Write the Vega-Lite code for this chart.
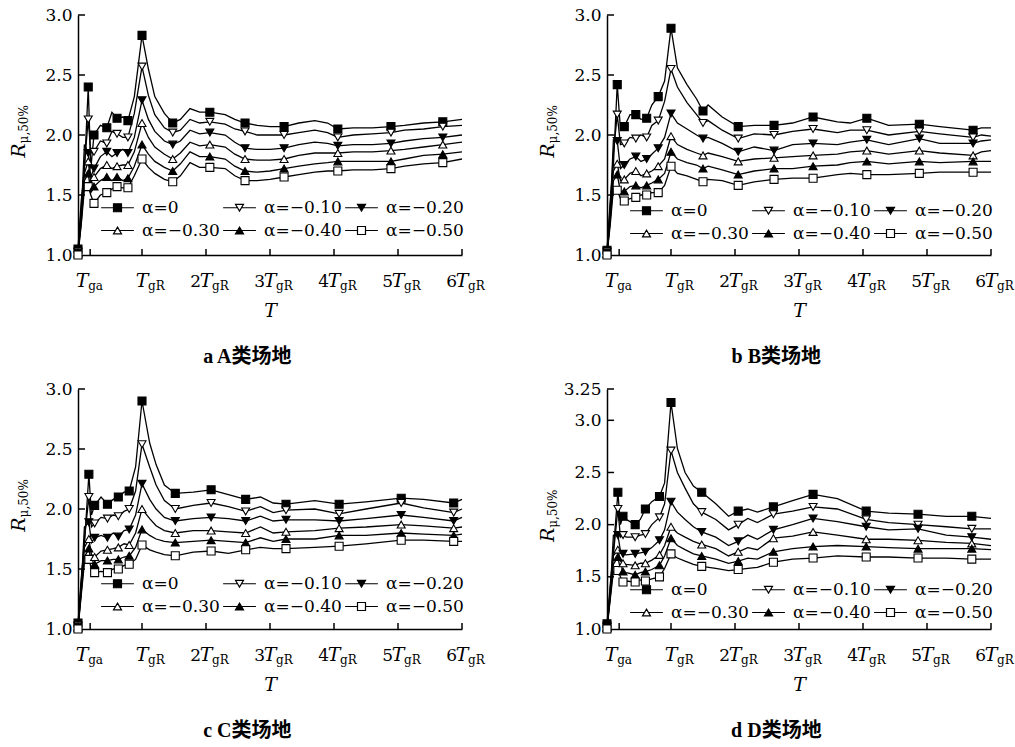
{
"$schema":"https://vega.github.io/schema/vega-lite/v6.json",
"padding":{"left":10,"top":6,"right":5,"bottom":5},
"background":"white",
"config":{"view":{"stroke":null},"font":"DejaVu Serif"},
"datasets":{
"X":[{"t":0.19,"n":"","s":"ga"},{"t":1,"n":"","s":"gR"},{"t":2,"n":"2","s":"gR"},{"t":3,"n":"3","s":"gR"},{"t":4,"n":"4","s":"gR"},{"t":5,"n":"5","s":"gR"},{"t":6,"n":"6","s":"gR"}],
"Y":[{"v":1.5},{"v":2},{"v":2.5},{"v":3},{"v":3.3}],
"L":[
{"p":"a","t":0,"m":1,"a":1.05,"b":1.03,"c":1.02,"d":1.02,"e":1.01,"f":1.0},
{"p":"a","t":0.05,"a":1.45,"b":1.38,"c":1.32,"d":1.3,"e":1.27,"f":1.25},
{"p":"a","t":0.1,"a":1.7,"b":1.75,"c":1.92,"d":1.68,"e":1.62,"f":1.55},
{"p":"a","t":0.16,"m":1,"a":2.4,"b":2.13,"c":1.85,"d":1.78,"e":1.68,"f":1.57},
{"p":"a","t":0.2,"a":1.72,"b":1.85,"c":1.65,"d":1.6,"e":1.52,"f":1.5},
{"p":"a","t":0.25,"m":1,"a":2.0,"b":1.86,"c":1.72,"d":1.65,"e":1.57,"f":1.43},
{"p":"a","t":0.35,"a":2.08,"b":1.95,"c":1.82,"d":1.72,"e":1.62,"f":1.5},
{"p":"a","t":0.45,"m":1,"a":2.06,"b":1.93,"c":1.86,"d":1.75,"e":1.65,"f":1.52},
{"p":"a","t":0.53,"a":2.19,"b":2.03,"c":1.82,"d":1.72,"e":1.62,"f":1.55},
{"p":"a","t":0.61,"m":1,"a":2.14,"b":2.01,"c":1.85,"d":1.74,"e":1.65,"f":1.57},
{"p":"a","t":0.7,"a":2.15,"b":1.98,"c":1.88,"d":1.75,"e":1.62,"f":1.56},
{"p":"a","t":0.78,"m":1,"a":2.12,"b":1.98,"c":1.85,"d":1.75,"e":1.64,"f":1.56},
{"p":"a","t":0.88,"a":2.32,"b":2.18,"c":1.98,"d":1.86,"e":1.74,"f":1.66},
{"p":"a","t":1.0,"m":1,"a":2.83,"b":2.57,"c":2.29,"d":2.1,"e":1.92,"f":1.8},
{"p":"a","t":1.1,"a":2.55,"b":2.33,"c":2.13,"d":1.98,"e":1.84,"f":1.73},
{"p":"a","t":1.2,"a":2.32,"b":2.17,"c":2.03,"d":1.9,"e":1.78,"f":1.68},
{"p":"a","t":1.35,"a":2.18,"b":2.06,"c":1.95,"d":1.84,"e":1.73,"f":1.63},
{"p":"a","t":1.48,"m":1,"a":2.1,"b":2.02,"c":1.92,"d":1.8,"e":1.7,"f":1.61},
{"p":"a","t":1.6,"a":2.13,"b":2.04,"c":1.95,"d":1.85,"e":1.76,"f":1.66},
{"p":"a","t":1.75,"a":2.22,"b":2.13,"c":2.04,"d":1.94,"e":1.86,"f":1.77},
{"p":"a","t":1.9,"a":2.19,"b":2.1,"c":2.01,"d":1.91,"e":1.82,"f":1.73},
{"p":"a","t":2.06,"m":1,"a":2.19,"b":2.11,"c":2.02,"d":1.92,"e":1.82,"f":1.73},
{"p":"a","t":2.3,"a":2.17,"b":2.09,"c":2.0,"d":1.9,"e":1.8,"f":1.72},
{"p":"a","t":2.45,"a":2.13,"b":2.05,"c":1.94,"d":1.84,"e":1.74,"f":1.66},
{"p":"a","t":2.61,"m":1,"a":2.1,"b":2.03,"c":1.89,"d":1.8,"e":1.7,"f":1.62},
{"p":"a","t":2.8,"a":2.08,"b":2.0,"c":1.88,"d":1.79,"e":1.69,"f":1.62},
{"p":"a","t":3.0,"a":2.07,"b":2.0,"c":1.88,"d":1.79,"e":1.7,"f":1.63},
{"p":"a","t":3.22,"m":1,"a":2.07,"b":2.0,"c":1.89,"d":1.8,"e":1.72,"f":1.65},
{"p":"a","t":3.45,"a":2.1,"b":2.02,"c":1.92,"d":1.83,"e":1.74,"f":1.67},
{"p":"a","t":3.7,"a":2.12,"b":2.04,"c":1.94,"d":1.85,"e":1.76,"f":1.69},
{"p":"a","t":3.9,"a":2.1,"b":2.02,"c":1.93,"d":1.85,"e":1.77,"f":1.7},
{"p":"a","t":4.06,"m":1,"a":2.05,"b":1.98,"c":1.91,"d":1.85,"e":1.78,"f":1.7},
{"p":"a","t":4.3,"a":2.06,"b":2.0,"c":1.92,"d":1.86,"e":1.78,"f":1.71},
{"p":"a","t":4.6,"a":2.06,"b":2.01,"c":1.92,"d":1.86,"e":1.78,"f":1.71},
{"p":"a","t":4.89,"m":1,"a":2.07,"b":2.02,"c":1.93,"d":1.87,"e":1.78,"f":1.72},
{"p":"a","t":5.1,"a":2.08,"b":2.04,"c":1.95,"d":1.88,"e":1.8,"f":1.74},
{"p":"a","t":5.4,"a":2.1,"b":2.05,"c":1.97,"d":1.9,"e":1.83,"f":1.76},
{"p":"a","t":5.7,"m":1,"a":2.11,"b":2.07,"c":1.98,"d":1.92,"e":1.84,"f":1.77},
{"p":"a","t":6.0,"a":2.13,"b":2.08,"c":2.0,"d":1.94,"e":1.86,"f":1.8},
{"p":"b","t":0,"m":1,"a":1.04,"b":1.03,"c":1.02,"d":1.01,"e":1.01,"f":1.0},
{"p":"b","t":0.05,"a":1.45,"b":1.4,"c":1.35,"d":1.3,"e":1.28,"f":1.25},
{"p":"b","t":0.1,"a":1.75,"b":1.85,"c":1.96,"d":1.7,"e":1.62,"f":1.55},
{"p":"b","t":0.16,"m":1,"a":2.42,"b":2.17,"c":1.95,"d":1.76,"e":1.67,"f":1.54},
{"p":"b","t":0.21,"a":2.05,"b":1.92,"c":1.72,"d":1.62,"e":1.53,"f":1.47},
{"p":"b","t":0.27,"m":1,"a":2.07,"b":1.93,"c":1.75,"d":1.63,"e":1.53,"f":1.45},
{"p":"b","t":0.36,"a":2.17,"b":1.98,"c":1.8,"d":1.68,"e":1.57,"f":1.47},
{"p":"b","t":0.45,"m":1,"a":2.17,"b":1.97,"c":1.82,"d":1.7,"e":1.58,"f":1.48},
{"p":"b","t":0.53,"a":2.13,"b":2.0,"c":1.78,"d":1.66,"e":1.56,"f":1.5},
{"p":"b","t":0.62,"m":1,"a":2.14,"b":1.98,"c":1.8,"d":1.68,"e":1.58,"f":1.5},
{"p":"b","t":0.7,"a":2.25,"b":2.08,"c":1.84,"d":1.7,"e":1.6,"f":1.52},
{"p":"b","t":0.8,"m":1,"a":2.32,"b":2.12,"c":1.89,"d":1.74,"e":1.63,"f":1.52},
{"p":"b","t":0.9,"a":2.45,"b":2.28,"c":1.98,"d":1.8,"e":1.68,"f":1.58},
{"p":"b","t":1.0,"m":1,"a":2.89,"b":2.55,"c":2.18,"d":1.99,"e":1.86,"f":1.74},
{"p":"b","t":1.1,"a":2.56,"b":2.4,"c":2.1,"d":1.92,"e":1.8,"f":1.68},
{"p":"b","t":1.25,"a":2.42,"b":2.27,"c":2.05,"d":1.88,"e":1.77,"f":1.66},
{"p":"b","t":1.4,"a":2.3,"b":2.17,"c":2.0,"d":1.85,"e":1.75,"f":1.63},
{"p":"b","t":1.5,"m":1,"a":2.2,"b":2.1,"c":1.97,"d":1.83,"e":1.72,"f":1.61},
{"p":"b","t":1.58,"a":2.25,"b":2.12,"c":1.98,"d":1.85,"e":1.74,"f":1.63},
{"p":"b","t":1.8,"a":2.15,"b":2.04,"c":1.93,"d":1.82,"e":1.71,"f":1.62},
{"p":"b","t":2.05,"m":1,"a":2.07,"b":1.97,"c":1.86,"d":1.78,"e":1.67,"f":1.58},
{"p":"b","t":2.3,"a":2.08,"b":2.01,"c":1.9,"d":1.8,"e":1.7,"f":1.61},
{"p":"b","t":2.61,"m":1,"a":2.08,"b":2.0,"c":1.87,"d":1.81,"e":1.72,"f":1.63},
{"p":"b","t":2.9,"a":2.1,"b":2.03,"c":1.92,"d":1.82,"e":1.72,"f":1.64},
{"p":"b","t":3.22,"m":1,"a":2.15,"b":2.05,"c":1.93,"d":1.83,"e":1.74,"f":1.64},
{"p":"b","t":3.6,"a":2.11,"b":2.02,"c":1.92,"d":1.84,"e":1.75,"f":1.67},
{"p":"b","t":3.8,"a":2.1,"b":2.04,"c":1.94,"d":1.86,"e":1.77,"f":1.68},
{"p":"b","t":4.06,"m":1,"a":2.14,"b":2.04,"c":1.96,"d":1.87,"e":1.78,"f":1.67},
{"p":"b","t":4.4,"a":2.08,"b":2.0,"c":1.92,"d":1.84,"e":1.76,"f":1.67},
{"p":"b","t":4.88,"m":1,"a":2.09,"b":2.03,"c":1.97,"d":1.87,"e":1.78,"f":1.68},
{"p":"b","t":5.2,"a":2.07,"b":2.01,"c":1.93,"d":1.85,"e":1.77,"f":1.69},
{"p":"b","t":5.72,"m":1,"a":2.04,"b":1.98,"c":1.93,"d":1.83,"e":1.78,"f":1.69},
{"p":"b","t":5.85,"a":2.06,"b":2.0,"c":1.95,"d":1.86,"e":1.78,"f":1.69},
{"p":"b","t":6.0,"a":2.06,"b":1.99,"c":1.96,"d":1.87,"e":1.78,"f":1.69},
{"p":"c","t":0,"m":1,"a":1.05,"b":1.03,"c":1.02,"d":1.02,"e":1.01,"f":1.0},
{"p":"c","t":0.05,"a":1.42,"b":1.38,"c":1.35,"d":1.32,"e":1.3,"f":1.28},
{"p":"c","t":0.1,"a":1.7,"b":1.75,"c":1.85,"d":1.68,"e":1.6,"f":1.55},
{"p":"c","t":0.17,"m":1,"a":2.29,"b":2.1,"c":1.89,"d":1.75,"e":1.67,"f":1.58},
{"p":"c","t":0.21,"a":1.95,"b":1.85,"c":1.72,"d":1.62,"e":1.55,"f":1.5},
{"p":"c","t":0.26,"m":1,"a":2.03,"b":1.88,"c":1.76,"d":1.6,"e":1.54,"f":1.47},
{"p":"c","t":0.36,"a":2.1,"b":1.93,"c":1.78,"d":1.65,"e":1.57,"f":1.48},
{"p":"c","t":0.46,"m":1,"a":2.04,"b":1.92,"c":1.76,"d":1.66,"e":1.57,"f":1.47},
{"p":"c","t":0.55,"a":2.08,"b":1.95,"c":1.8,"d":1.67,"e":1.58,"f":1.5},
{"p":"c","t":0.63,"m":1,"a":2.1,"b":1.94,"c":1.77,"d":1.68,"e":1.58,"f":1.5},
{"p":"c","t":0.72,"a":2.14,"b":1.98,"c":1.82,"d":1.71,"e":1.6,"f":1.53},
{"p":"c","t":0.8,"m":1,"a":2.15,"b":2.0,"c":1.83,"d":1.7,"e":1.61,"f":1.54},
{"p":"c","t":0.9,"a":2.35,"b":2.15,"c":1.95,"d":1.8,"e":1.68,"f":1.58},
{"p":"c","t":1.0,"m":1,"a":2.9,"b":2.54,"c":2.21,"d":2.0,"e":1.83,"f":1.7},
{"p":"c","t":1.12,"a":2.55,"b":2.35,"c":2.08,"d":1.92,"e":1.78,"f":1.66},
{"p":"c","t":1.22,"a":2.37,"b":2.2,"c":2.0,"d":1.86,"e":1.75,"f":1.64},
{"p":"c","t":1.35,"a":2.2,"b":2.07,"c":1.93,"d":1.82,"e":1.73,"f":1.62},
{"p":"c","t":1.52,"m":1,"a":2.13,"b":2.0,"c":1.9,"d":1.8,"e":1.72,"f":1.61},
{"p":"c","t":1.8,"a":2.14,"b":2.03,"c":1.92,"d":1.82,"e":1.73,"f":1.64},
{"p":"c","t":2.08,"m":1,"a":2.16,"b":2.05,"c":1.93,"d":1.82,"e":1.74,"f":1.65},
{"p":"c","t":2.35,"a":2.12,"b":2.02,"c":1.92,"d":1.81,"e":1.73,"f":1.63},
{"p":"c","t":2.62,"m":1,"a":2.08,"b":1.98,"c":1.9,"d":1.8,"e":1.72,"f":1.66},
{"p":"c","t":2.85,"a":2.1,"b":2.02,"c":1.94,"d":1.85,"e":1.76,"f":1.68},
{"p":"c","t":3.05,"a":2.05,"b":1.97,"c":1.9,"d":1.8,"e":1.73,"f":1.67},
{"p":"c","t":3.25,"m":1,"a":2.04,"b":1.99,"c":1.91,"d":1.81,"e":1.75,"f":1.67},
{"p":"c","t":3.7,"a":2.07,"b":2.0,"c":1.91,"d":1.82,"e":1.75,"f":1.68},
{"p":"c","t":4.08,"m":1,"a":2.04,"b":1.96,"c":1.9,"d":1.84,"e":1.78,"f":1.69},
{"p":"c","t":4.5,"a":2.06,"b":2.0,"c":1.92,"d":1.85,"e":1.78,"f":1.71},
{"p":"c","t":5.05,"m":1,"a":2.09,"b":2.05,"c":1.95,"d":1.87,"e":1.8,"f":1.74},
{"p":"c","t":5.4,"a":2.08,"b":2.01,"c":1.93,"d":1.86,"e":1.79,"f":1.74},
{"p":"c","t":5.87,"m":1,"a":2.05,"b":1.97,"c":1.9,"d":1.84,"e":1.78,"f":1.73},
{"p":"c","t":6.0,"a":2.08,"b":2.0,"c":1.93,"d":1.85,"e":1.79,"f":1.73},
{"p":"d","t":0,"m":1,"a":1.05,"b":1.03,"c":1.02,"d":1.02,"e":1.01,"f":1.0},
{"p":"d","t":0.05,"a":1.42,"b":1.38,"c":1.35,"d":1.32,"e":1.3,"f":1.28},
{"p":"d","t":0.1,"a":1.75,"b":1.72,"c":1.9,"d":1.7,"e":1.62,"f":1.55},
{"p":"d","t":0.17,"m":1,"a":2.31,"b":2.15,"c":1.9,"d":1.76,"e":1.69,"f":1.56},
{"p":"d","t":0.21,"a":2.0,"b":1.88,"c":1.75,"d":1.65,"e":1.57,"f":1.5},
{"p":"d","t":0.25,"m":1,"a":2.08,"b":1.9,"c":1.72,"d":1.63,"e":1.55,"f":1.45},
{"p":"d","t":0.3,"a":2.05,"b":1.88,"c":1.71,"d":1.62,"e":1.54,"f":1.46},
{"p":"d","t":0.44,"m":1,"a":2.0,"b":1.88,"c":1.72,"d":1.61,"e":1.52,"f":1.45},
{"p":"d","t":0.52,"a":2.05,"b":1.9,"c":1.73,"d":1.63,"e":1.54,"f":1.47},
{"p":"d","t":0.6,"m":1,"a":2.15,"b":1.91,"c":1.74,"d":1.63,"e":1.55,"f":1.46},
{"p":"d","t":0.7,"a":2.22,"b":2.0,"c":1.78,"d":1.66,"e":1.57,"f":1.48},
{"p":"d","t":0.82,"m":1,"a":2.27,"b":2.07,"c":1.85,"d":1.71,"e":1.61,"f":1.5},
{"p":"d","t":0.9,"a":2.4,"b":2.2,"c":1.95,"d":1.8,"e":1.7,"f":1.58},
{"p":"d","t":1.0,"m":1,"a":3.17,"b":2.71,"c":2.22,"d":1.98,"e":1.87,"f":1.72},
{"p":"d","t":1.1,"a":2.73,"b":2.5,"c":2.12,"d":1.92,"e":1.8,"f":1.68},
{"p":"d","t":1.22,"a":2.5,"b":2.35,"c":2.05,"d":1.88,"e":1.76,"f":1.65},
{"p":"d","t":1.35,"a":2.37,"b":2.2,"c":1.98,"d":1.84,"e":1.72,"f":1.62},
{"p":"d","t":1.48,"m":1,"a":2.31,"b":2.12,"c":1.93,"d":1.81,"e":1.7,"f":1.6},
{"p":"d","t":1.7,"a":2.2,"b":2.05,"c":1.88,"d":1.77,"e":1.67,"f":1.58},
{"p":"d","t":1.9,"a":2.08,"b":1.95,"c":1.8,"d":1.7,"e":1.63,"f":1.56},
{"p":"d","t":2.05,"m":1,"a":2.13,"b":2.0,"c":1.84,"d":1.74,"e":1.65,"f":1.57},
{"p":"d","t":2.2,"a":2.15,"b":2.06,"c":1.9,"d":1.78,"e":1.68,"f":1.58},
{"p":"d","t":2.35,"a":2.12,"b":2.02,"c":1.86,"d":1.76,"e":1.67,"f":1.59},
{"p":"d","t":2.6,"m":1,"a":2.17,"b":2.1,"c":1.95,"d":1.87,"e":1.74,"f":1.64},
{"p":"d","t":2.9,"a":2.23,"b":2.13,"c":2.0,"d":1.89,"e":1.77,"f":1.67},
{"p":"d","t":3.22,"m":1,"a":2.29,"b":2.17,"c":2.06,"d":1.93,"e":1.79,"f":1.68},
{"p":"d","t":3.6,"a":2.25,"b":2.15,"c":2.03,"d":1.9,"e":1.8,"f":1.7},
{"p":"d","t":4.05,"m":1,"a":2.13,"b":2.05,"c":1.98,"d":1.86,"e":1.79,"f":1.69},
{"p":"d","t":4.4,"a":2.11,"b":2.02,"c":1.95,"d":1.86,"e":1.78,"f":1.69},
{"p":"d","t":4.86,"m":1,"a":2.1,"b":2.0,"c":1.96,"d":1.85,"e":1.77,"f":1.68},
{"p":"d","t":5.3,"a":2.08,"b":1.98,"c":1.9,"d":1.83,"e":1.77,"f":1.68},
{"p":"d","t":5.7,"m":1,"a":2.08,"b":1.96,"c":1.88,"d":1.82,"e":1.77,"f":1.67},
{"p":"d","t":6.0,"a":2.06,"b":1.96,"c":1.86,"d":1.8,"e":1.76,"f":1.67}
]},
"columns":2,
"bounds":"flush",
"spacing":{"row":134,"column":145},
"resolve":{"scale":{"x":"independent","y":"independent","shape":"independent","fill":"independent"},"legend":{"shape":"independent","fill":"independent"}},
"concat":[
{"width":384,"height":240,
"title":{"text":"a A类场地","orient":"bottom","frame":"bounds","anchor":"middle","offset":27,"font":"Liberation Serif, Noto Sans CJK SC","fontSize":20,"fontWeight":"bold","color":"black"},
"resolve":{"scale":{"shape":"independent","fill":"independent"},"legend":{"shape":"independent","fill":"independent"}},
"layer":[
{"data":{"name":"L"},"transform":[{"filter":"datum.p=='a'"},{"fold":["a","b","c","d","e","f"],"as":["s","r"]}],"mark":{"type":"line","color":"black","strokeWidth":1.3},
"encoding":{"x":{"field":"t","type":"quantitative","scale":{"domain":[0,6],"nice":false,"zero":false},"axis":{"values":[0.19,1,2,3,4,5,6],"labels":false,"ticks":false,"domainColor":"black","domainWidth":1.5,"grid":false,"title":"T","titleFont":"DejaVu Serif","titleFontStyle":"italic","titleFontWeight":"normal","titleFontSize":19,"titleColor":"black","titlePadding":46}},
"y":{"field":"r","type":"quantitative","scale":{"domain":[1,3],"nice":false,"zero":false},"axis":{"values":[1,1.5,2,2.5,3],"format":".1f","ticks":false,"domainColor":"black","domainWidth":1.5,"grid":false,"title":null,"labelFont":"DejaVu Serif","labelFontSize":17,"labelColor":"black","labelPadding":6}},
"detail":{"field":"s"}}},
{"data":{"name":"X"},"mark":{"type":"rule","color":"black","strokeWidth":1.5},"encoding":{"x":{"field":"t","type":"quantitative"},"y":{"datum":1},"y2":{"datum":1.05}}},
{"data":{"name":"Y"},"transform":[{"filter":"datum.v <= 3"}],"mark":{"type":"rule","color":"black","strokeWidth":1.5},"encoding":{"y":{"field":"v","type":"quantitative"},"x":{"datum":0},"x2":{"datum":0.11}}},
{"data":{"name":"L"},"transform":[{"filter":"datum.p=='a' && datum.m==1"},{"fold":["a","b","c","d","e","f"],"as":["s","r"]}],"mark":{"type":"point","stroke":"black","strokeWidth":1.1,"opacity":1,"size":64},
"encoding":{"x":{"field":"t","type":"quantitative"},"y":{"field":"r","type":"quantitative"},
"shape":{"field":"s","type":"nominal","scale":{"domain":["a","b","c","d","e","f"],"range":["square","triangle-down","triangle-down","triangle-up","triangle-up","square"]},"legend":null},
"fill":{"field":"s","type":"nominal","scale":{"domain":["a","b","c","d","e","f"],"range":["black","white","black","white","black","white"]},"legend":null}}},
{"data":{"name":"L"},"transform":[{"filter":"false"},{"fold":["a","b","c","d","e","f"],"as":["s","r"]}],"mark":{"type":"point","stroke":"black","strokeWidth":1.2,"opacity":1,"size":64},
"encoding":{"x":{"field":"t","type":"quantitative"},"y":{"field":"r","type":"quantitative"},
"shape":{"field":"s","type":"nominal","scale":{"domain":["a","b","c","d","e","f"],"range":["M-4.1,0H-1M1,0H4.1M-1,-1H1V1H-1Z","M-4.1,0H-0.5M0.5,0H4.1M-1,-0.85H1L0,0.85Z","M-4.1,0H-0.5M0.5,0H4.1M-1,-0.85H1L0,0.85Z","M-4.1,0H-0.5M0.5,0H4.1M0,-0.85L1,0.85H-1Z","M-4.1,0H-0.5M0.5,0H4.1M0,-0.85L1,0.85H-1Z","M-4.1,0H-1M1,0H4.1M-1,-1H1V1H-1Z"]},
"legend":{"orient":"none","legendX":31,"legendY":184,"direction":"horizontal","columns":3,"title":null,"padding":0,"symbolSize":64,"symbolStrokeWidth":1.2,"labelFont":"DejaVu Serif","labelFontSize":17,"labelColor":"black","labelOffset":16,"columnPadding":0,"rowPadding":5,"labelExpr":"{'a':'α=0','b':'α=−0.10','c':'α=−0.20','d':'α=−0.30','e':'α=−0.40','f':'α=−0.50'}[datum.value]"}},
"fill":{"field":"s","type":"nominal","scale":{"domain":["a","b","c","d","e","f"],"range":["black","white","black","white","black","white"]}}}},
{"data":{"name":"X"},"mark":{"type":"text","align":"right","baseline":"alphabetic","dx":-5,"dy":32,"font":"DejaVu Serif","fontSize":17,"color":"black"},"encoding":{"x":{"field":"t","type":"quantitative"},"y":{"datum":1},"text":{"field":"n"}}},
{"data":{"name":"X"},"transform":[{"filter":"datum.t > 0.5"}],"mark":{"type":"text","text":"T","align":"center","baseline":"alphabetic","dy":32,"font":"DejaVu Serif","fontStyle":"italic","fontSize":19,"color":"black"},"encoding":{"x":{"field":"t","type":"quantitative"},"y":{"datum":1}}},
{"data":{"name":"X"},"transform":[{"filter":"datum.t > 0.5"}],"mark":{"type":"text","align":"left","baseline":"alphabetic","dx":6,"dy":35,"font":"DejaVu Serif","fontSize":12,"color":"black"},"encoding":{"x":{"field":"t","type":"quantitative"},"y":{"datum":1},"text":{"field":"s"}}},
{"data":{"name":"X"},"transform":[{"filter":"datum.t < 0.5"}],"mark":{"type":"text","text":"T","align":"center","baseline":"alphabetic","dx":-8,"dy":32,"font":"DejaVu Serif","fontStyle":"italic","fontSize":19,"color":"black"},"encoding":{"x":{"field":"t","type":"quantitative"},"y":{"datum":1}}},
{"data":{"name":"X"},"transform":[{"filter":"datum.t < 0.5"}],"mark":{"type":"text","align":"left","baseline":"alphabetic","dx":-2,"dy":35,"font":"DejaVu Serif","fontSize":12,"color":"black"},"encoding":{"x":{"field":"t","type":"quantitative"},"y":{"datum":1},"text":{"field":"s"}}},
{"data":{"values":[{}]},"mark":{"type":"text","text":"R","angle":270,"align":"right","baseline":"alphabetic","dy":-53,"font":"DejaVu Serif","fontStyle":"italic","fontSize":19,"color":"black"},"encoding":{"x":{"datum":0},"y":{"datum":1.93}}},
{"data":{"values":[{}]},"mark":{"type":"text","text":"μ,50%","angle":270,"align":"left","baseline":"alphabetic","dy":-50,"font":"DejaVu Serif","fontSize":12,"color":"black"},"encoding":{"x":{"datum":0},"y":{"datum":1.93}}}
]},
{"width":384,"height":240,
"title":{"text":"b B类场地","orient":"bottom","frame":"bounds","anchor":"middle","offset":27,"font":"Liberation Serif, Noto Sans CJK SC","fontSize":20,"fontWeight":"bold","color":"black"},
"resolve":{"scale":{"shape":"independent","fill":"independent"},"legend":{"shape":"independent","fill":"independent"}},
"layer":[
{"data":{"name":"L"},"transform":[{"filter":"datum.p=='b'"},{"fold":["a","b","c","d","e","f"],"as":["s","r"]}],"mark":{"type":"line","color":"black","strokeWidth":1.3},
"encoding":{"x":{"field":"t","type":"quantitative","scale":{"domain":[0,6],"nice":false,"zero":false},"axis":{"values":[0.19,1,2,3,4,5,6],"labels":false,"ticks":false,"domainColor":"black","domainWidth":1.5,"grid":false,"title":"T","titleFont":"DejaVu Serif","titleFontStyle":"italic","titleFontWeight":"normal","titleFontSize":19,"titleColor":"black","titlePadding":46}},
"y":{"field":"r","type":"quantitative","scale":{"domain":[1,3],"nice":false,"zero":false},"axis":{"values":[1,1.5,2,2.5,3],"format":".1f","ticks":false,"domainColor":"black","domainWidth":1.5,"grid":false,"title":null,"labelFont":"DejaVu Serif","labelFontSize":17,"labelColor":"black","labelPadding":6}},
"detail":{"field":"s"}}},
{"data":{"name":"X"},"mark":{"type":"rule","color":"black","strokeWidth":1.5},"encoding":{"x":{"field":"t","type":"quantitative"},"y":{"datum":1},"y2":{"datum":1.05}}},
{"data":{"name":"Y"},"transform":[{"filter":"datum.v <= 3"}],"mark":{"type":"rule","color":"black","strokeWidth":1.5},"encoding":{"y":{"field":"v","type":"quantitative"},"x":{"datum":0},"x2":{"datum":0.11}}},
{"data":{"name":"L"},"transform":[{"filter":"datum.p=='b' && datum.m==1"},{"fold":["a","b","c","d","e","f"],"as":["s","r"]}],"mark":{"type":"point","stroke":"black","strokeWidth":1.1,"opacity":1,"size":64},
"encoding":{"x":{"field":"t","type":"quantitative"},"y":{"field":"r","type":"quantitative"},
"shape":{"field":"s","type":"nominal","scale":{"domain":["a","b","c","d","e","f"],"range":["square","triangle-down","triangle-down","triangle-up","triangle-up","square"]},"legend":null},
"fill":{"field":"s","type":"nominal","scale":{"domain":["a","b","c","d","e","f"],"range":["black","white","black","white","black","white"]},"legend":null}}},
{"data":{"name":"L"},"transform":[{"filter":"false"},{"fold":["a","b","c","d","e","f"],"as":["s","r"]}],"mark":{"type":"point","stroke":"black","strokeWidth":1.2,"opacity":1,"size":64},
"encoding":{"x":{"field":"t","type":"quantitative"},"y":{"field":"r","type":"quantitative"},
"shape":{"field":"s","type":"nominal","scale":{"domain":["a","b","c","d","e","f"],"range":["M-4.1,0H-1M1,0H4.1M-1,-1H1V1H-1Z","M-4.1,0H-0.5M0.5,0H4.1M-1,-0.85H1L0,0.85Z","M-4.1,0H-0.5M0.5,0H4.1M-1,-0.85H1L0,0.85Z","M-4.1,0H-0.5M0.5,0H4.1M0,-0.85L1,0.85H-1Z","M-4.1,0H-0.5M0.5,0H4.1M0,-0.85L1,0.85H-1Z","M-4.1,0H-1M1,0H4.1M-1,-1H1V1H-1Z"]},
"legend":{"orient":"none","legendX":31,"legendY":187,"direction":"horizontal","columns":3,"title":null,"padding":0,"symbolSize":64,"symbolStrokeWidth":1.2,"labelFont":"DejaVu Serif","labelFontSize":17,"labelColor":"black","labelOffset":16,"columnPadding":0,"rowPadding":5,"labelExpr":"{'a':'α=0','b':'α=−0.10','c':'α=−0.20','d':'α=−0.30','e':'α=−0.40','f':'α=−0.50'}[datum.value]"}},
"fill":{"field":"s","type":"nominal","scale":{"domain":["a","b","c","d","e","f"],"range":["black","white","black","white","black","white"]}}}},
{"data":{"name":"X"},"mark":{"type":"text","align":"right","baseline":"alphabetic","dx":-5,"dy":32,"font":"DejaVu Serif","fontSize":17,"color":"black"},"encoding":{"x":{"field":"t","type":"quantitative"},"y":{"datum":1},"text":{"field":"n"}}},
{"data":{"name":"X"},"transform":[{"filter":"datum.t > 0.5"}],"mark":{"type":"text","text":"T","align":"center","baseline":"alphabetic","dy":32,"font":"DejaVu Serif","fontStyle":"italic","fontSize":19,"color":"black"},"encoding":{"x":{"field":"t","type":"quantitative"},"y":{"datum":1}}},
{"data":{"name":"X"},"transform":[{"filter":"datum.t > 0.5"}],"mark":{"type":"text","align":"left","baseline":"alphabetic","dx":6,"dy":35,"font":"DejaVu Serif","fontSize":12,"color":"black"},"encoding":{"x":{"field":"t","type":"quantitative"},"y":{"datum":1},"text":{"field":"s"}}},
{"data":{"name":"X"},"transform":[{"filter":"datum.t < 0.5"}],"mark":{"type":"text","text":"T","align":"center","baseline":"alphabetic","dx":-8,"dy":32,"font":"DejaVu Serif","fontStyle":"italic","fontSize":19,"color":"black"},"encoding":{"x":{"field":"t","type":"quantitative"},"y":{"datum":1}}},
{"data":{"name":"X"},"transform":[{"filter":"datum.t < 0.5"}],"mark":{"type":"text","align":"left","baseline":"alphabetic","dx":-2,"dy":35,"font":"DejaVu Serif","fontSize":12,"color":"black"},"encoding":{"x":{"field":"t","type":"quantitative"},"y":{"datum":1},"text":{"field":"s"}}},
{"data":{"values":[{}]},"mark":{"type":"text","text":"R","angle":270,"align":"right","baseline":"alphabetic","dy":-53,"font":"DejaVu Serif","fontStyle":"italic","fontSize":19,"color":"black"},"encoding":{"x":{"datum":0},"y":{"datum":1.93}}},
{"data":{"values":[{}]},"mark":{"type":"text","text":"μ,50%","angle":270,"align":"left","baseline":"alphabetic","dy":-50,"font":"DejaVu Serif","fontSize":12,"color":"black"},"encoding":{"x":{"datum":0},"y":{"datum":1.93}}}
]},
{"width":384,"height":240,
"title":{"text":"c C类场地","orient":"bottom","frame":"bounds","anchor":"middle","offset":27,"font":"Liberation Serif, Noto Sans CJK SC","fontSize":20,"fontWeight":"bold","color":"black"},
"resolve":{"scale":{"shape":"independent","fill":"independent"},"legend":{"shape":"independent","fill":"independent"}},
"layer":[
{"data":{"name":"L"},"transform":[{"filter":"datum.p=='c'"},{"fold":["a","b","c","d","e","f"],"as":["s","r"]}],"mark":{"type":"line","color":"black","strokeWidth":1.3},
"encoding":{"x":{"field":"t","type":"quantitative","scale":{"domain":[0,6],"nice":false,"zero":false},"axis":{"values":[0.19,1,2,3,4,5,6],"labels":false,"ticks":false,"domainColor":"black","domainWidth":1.5,"grid":false,"title":"T","titleFont":"DejaVu Serif","titleFontStyle":"italic","titleFontWeight":"normal","titleFontSize":19,"titleColor":"black","titlePadding":46}},
"y":{"field":"r","type":"quantitative","scale":{"domain":[1,3],"nice":false,"zero":false},"axis":{"values":[1,1.5,2,2.5,3],"format":".1f","ticks":false,"domainColor":"black","domainWidth":1.5,"grid":false,"title":null,"labelFont":"DejaVu Serif","labelFontSize":17,"labelColor":"black","labelPadding":6}},
"detail":{"field":"s"}}},
{"data":{"name":"X"},"mark":{"type":"rule","color":"black","strokeWidth":1.5},"encoding":{"x":{"field":"t","type":"quantitative"},"y":{"datum":1},"y2":{"datum":1.05}}},
{"data":{"name":"Y"},"transform":[{"filter":"datum.v <= 3"}],"mark":{"type":"rule","color":"black","strokeWidth":1.5},"encoding":{"y":{"field":"v","type":"quantitative"},"x":{"datum":0},"x2":{"datum":0.11}}},
{"data":{"name":"L"},"transform":[{"filter":"datum.p=='c' && datum.m==1"},{"fold":["a","b","c","d","e","f"],"as":["s","r"]}],"mark":{"type":"point","stroke":"black","strokeWidth":1.1,"opacity":1,"size":64},
"encoding":{"x":{"field":"t","type":"quantitative"},"y":{"field":"r","type":"quantitative"},
"shape":{"field":"s","type":"nominal","scale":{"domain":["a","b","c","d","e","f"],"range":["square","triangle-down","triangle-down","triangle-up","triangle-up","square"]},"legend":null},
"fill":{"field":"s","type":"nominal","scale":{"domain":["a","b","c","d","e","f"],"range":["black","white","black","white","black","white"]},"legend":null}}},
{"data":{"name":"L"},"transform":[{"filter":"false"},{"fold":["a","b","c","d","e","f"],"as":["s","r"]}],"mark":{"type":"point","stroke":"black","strokeWidth":1.2,"opacity":1,"size":64},
"encoding":{"x":{"field":"t","type":"quantitative"},"y":{"field":"r","type":"quantitative"},
"shape":{"field":"s","type":"nominal","scale":{"domain":["a","b","c","d","e","f"],"range":["M-4.1,0H-1M1,0H4.1M-1,-1H1V1H-1Z","M-4.1,0H-0.5M0.5,0H4.1M-1,-0.85H1L0,0.85Z","M-4.1,0H-0.5M0.5,0H4.1M-1,-0.85H1L0,0.85Z","M-4.1,0H-0.5M0.5,0H4.1M0,-0.85L1,0.85H-1Z","M-4.1,0H-0.5M0.5,0H4.1M0,-0.85L1,0.85H-1Z","M-4.1,0H-1M1,0H4.1M-1,-1H1V1H-1Z"]},
"legend":{"orient":"none","legendX":31,"legendY":186,"direction":"horizontal","columns":3,"title":null,"padding":0,"symbolSize":64,"symbolStrokeWidth":1.2,"labelFont":"DejaVu Serif","labelFontSize":17,"labelColor":"black","labelOffset":16,"columnPadding":0,"rowPadding":5,"labelExpr":"{'a':'α=0','b':'α=−0.10','c':'α=−0.20','d':'α=−0.30','e':'α=−0.40','f':'α=−0.50'}[datum.value]"}},
"fill":{"field":"s","type":"nominal","scale":{"domain":["a","b","c","d","e","f"],"range":["black","white","black","white","black","white"]}}}},
{"data":{"name":"X"},"mark":{"type":"text","align":"right","baseline":"alphabetic","dx":-5,"dy":32,"font":"DejaVu Serif","fontSize":17,"color":"black"},"encoding":{"x":{"field":"t","type":"quantitative"},"y":{"datum":1},"text":{"field":"n"}}},
{"data":{"name":"X"},"transform":[{"filter":"datum.t > 0.5"}],"mark":{"type":"text","text":"T","align":"center","baseline":"alphabetic","dy":32,"font":"DejaVu Serif","fontStyle":"italic","fontSize":19,"color":"black"},"encoding":{"x":{"field":"t","type":"quantitative"},"y":{"datum":1}}},
{"data":{"name":"X"},"transform":[{"filter":"datum.t > 0.5"}],"mark":{"type":"text","align":"left","baseline":"alphabetic","dx":6,"dy":35,"font":"DejaVu Serif","fontSize":12,"color":"black"},"encoding":{"x":{"field":"t","type":"quantitative"},"y":{"datum":1},"text":{"field":"s"}}},
{"data":{"name":"X"},"transform":[{"filter":"datum.t < 0.5"}],"mark":{"type":"text","text":"T","align":"center","baseline":"alphabetic","dx":-8,"dy":32,"font":"DejaVu Serif","fontStyle":"italic","fontSize":19,"color":"black"},"encoding":{"x":{"field":"t","type":"quantitative"},"y":{"datum":1}}},
{"data":{"name":"X"},"transform":[{"filter":"datum.t < 0.5"}],"mark":{"type":"text","align":"left","baseline":"alphabetic","dx":-2,"dy":35,"font":"DejaVu Serif","fontSize":12,"color":"black"},"encoding":{"x":{"field":"t","type":"quantitative"},"y":{"datum":1},"text":{"field":"s"}}},
{"data":{"values":[{}]},"mark":{"type":"text","text":"R","angle":270,"align":"right","baseline":"alphabetic","dy":-53,"font":"DejaVu Serif","fontStyle":"italic","fontSize":19,"color":"black"},"encoding":{"x":{"datum":0},"y":{"datum":1.93}}},
{"data":{"values":[{}]},"mark":{"type":"text","text":"μ,50%","angle":270,"align":"left","baseline":"alphabetic","dy":-50,"font":"DejaVu Serif","fontSize":12,"color":"black"},"encoding":{"x":{"datum":0},"y":{"datum":1.93}}}
]},
{"width":384,"height":240,
"title":{"text":"d D类场地","orient":"bottom","frame":"bounds","anchor":"middle","offset":27,"font":"Liberation Serif, Noto Sans CJK SC","fontSize":20,"fontWeight":"bold","color":"black"},
"resolve":{"scale":{"shape":"independent","fill":"independent"},"legend":{"shape":"independent","fill":"independent"}},
"layer":[
{"data":{"name":"L"},"transform":[{"filter":"datum.p=='d'"},{"fold":["a","b","c","d","e","f"],"as":["s","r"]}],"mark":{"type":"line","color":"black","strokeWidth":1.3},
"encoding":{"x":{"field":"t","type":"quantitative","scale":{"domain":[0,6],"nice":false,"zero":false},"axis":{"values":[0.19,1,2,3,4,5,6],"labels":false,"ticks":false,"domainColor":"black","domainWidth":1.5,"grid":false,"title":"T","titleFont":"DejaVu Serif","titleFontStyle":"italic","titleFontWeight":"normal","titleFontSize":19,"titleColor":"black","titlePadding":46}},
"y":{"field":"r","type":"quantitative","scale":{"domain":[1,3.3],"nice":false,"zero":false},"axis":{"values":[1,1.5,2,2.5,3,3.3],"labelExpr":"datum.value > 3.2 ? '3.25' : format(datum.value, '.1f')","ticks":false,"domainColor":"black","domainWidth":1.5,"grid":false,"title":null,"labelFont":"DejaVu Serif","labelFontSize":17,"labelColor":"black","labelPadding":6}},
"detail":{"field":"s"}}},
{"data":{"name":"X"},"mark":{"type":"rule","color":"black","strokeWidth":1.5},"encoding":{"x":{"field":"t","type":"quantitative"},"y":{"datum":1},"y2":{"datum":1.058}}},
{"data":{"name":"Y"},"mark":{"type":"rule","color":"black","strokeWidth":1.5},"encoding":{"y":{"field":"v","type":"quantitative"},"x":{"datum":0},"x2":{"datum":0.11}}},
{"data":{"name":"L"},"transform":[{"filter":"datum.p=='d' && datum.m==1"},{"fold":["a","b","c","d","e","f"],"as":["s","r"]}],"mark":{"type":"point","stroke":"black","strokeWidth":1.1,"opacity":1,"size":64},
"encoding":{"x":{"field":"t","type":"quantitative"},"y":{"field":"r","type":"quantitative"},
"shape":{"field":"s","type":"nominal","scale":{"domain":["a","b","c","d","e","f"],"range":["square","triangle-down","triangle-down","triangle-up","triangle-up","square"]},"legend":null},
"fill":{"field":"s","type":"nominal","scale":{"domain":["a","b","c","d","e","f"],"range":["black","white","black","white","black","white"]},"legend":null}}},
{"data":{"name":"L"},"transform":[{"filter":"false"},{"fold":["a","b","c","d","e","f"],"as":["s","r"]}],"mark":{"type":"point","stroke":"black","strokeWidth":1.2,"opacity":1,"size":64},
"encoding":{"x":{"field":"t","type":"quantitative"},"y":{"field":"r","type":"quantitative"},
"shape":{"field":"s","type":"nominal","scale":{"domain":["a","b","c","d","e","f"],"range":["M-4.1,0H-1M1,0H4.1M-1,-1H1V1H-1Z","M-4.1,0H-0.5M0.5,0H4.1M-1,-0.85H1L0,0.85Z","M-4.1,0H-0.5M0.5,0H4.1M-1,-0.85H1L0,0.85Z","M-4.1,0H-0.5M0.5,0H4.1M0,-0.85L1,0.85H-1Z","M-4.1,0H-0.5M0.5,0H4.1M0,-0.85L1,0.85H-1Z","M-4.1,0H-1M1,0H4.1M-1,-1H1V1H-1Z"]},
"legend":{"orient":"none","legendX":31,"legendY":192,"direction":"horizontal","columns":3,"title":null,"padding":0,"symbolSize":64,"symbolStrokeWidth":1.2,"labelFont":"DejaVu Serif","labelFontSize":17,"labelColor":"black","labelOffset":16,"columnPadding":0,"rowPadding":5,"labelExpr":"{'a':'α=0','b':'α=−0.10','c':'α=−0.20','d':'α=−0.30','e':'α=−0.40','f':'α=−0.50'}[datum.value]"}},
"fill":{"field":"s","type":"nominal","scale":{"domain":["a","b","c","d","e","f"],"range":["black","white","black","white","black","white"]}}}},
{"data":{"name":"X"},"mark":{"type":"text","align":"right","baseline":"alphabetic","dx":-5,"dy":32,"font":"DejaVu Serif","fontSize":17,"color":"black"},"encoding":{"x":{"field":"t","type":"quantitative"},"y":{"datum":1},"text":{"field":"n"}}},
{"data":{"name":"X"},"transform":[{"filter":"datum.t > 0.5"}],"mark":{"type":"text","text":"T","align":"center","baseline":"alphabetic","dy":32,"font":"DejaVu Serif","fontStyle":"italic","fontSize":19,"color":"black"},"encoding":{"x":{"field":"t","type":"quantitative"},"y":{"datum":1}}},
{"data":{"name":"X"},"transform":[{"filter":"datum.t > 0.5"}],"mark":{"type":"text","align":"left","baseline":"alphabetic","dx":6,"dy":35,"font":"DejaVu Serif","fontSize":12,"color":"black"},"encoding":{"x":{"field":"t","type":"quantitative"},"y":{"datum":1},"text":{"field":"s"}}},
{"data":{"name":"X"},"transform":[{"filter":"datum.t < 0.5"}],"mark":{"type":"text","text":"T","align":"center","baseline":"alphabetic","dx":-8,"dy":32,"font":"DejaVu Serif","fontStyle":"italic","fontSize":19,"color":"black"},"encoding":{"x":{"field":"t","type":"quantitative"},"y":{"datum":1}}},
{"data":{"name":"X"},"transform":[{"filter":"datum.t < 0.5"}],"mark":{"type":"text","align":"left","baseline":"alphabetic","dx":-2,"dy":35,"font":"DejaVu Serif","fontSize":12,"color":"black"},"encoding":{"x":{"field":"t","type":"quantitative"},"y":{"datum":1},"text":{"field":"s"}}},
{"data":{"values":[{}]},"mark":{"type":"text","text":"R","angle":270,"align":"right","baseline":"alphabetic","dy":-53,"font":"DejaVu Serif","fontStyle":"italic","fontSize":19,"color":"black"},"encoding":{"x":{"datum":0},"y":{"datum":1.97}}},
{"data":{"values":[{}]},"mark":{"type":"text","text":"μ,50%","angle":270,"align":"left","baseline":"alphabetic","dy":-50,"font":"DejaVu Serif","fontSize":12,"color":"black"},"encoding":{"x":{"datum":0},"y":{"datum":1.97}}}
]}
]
}
